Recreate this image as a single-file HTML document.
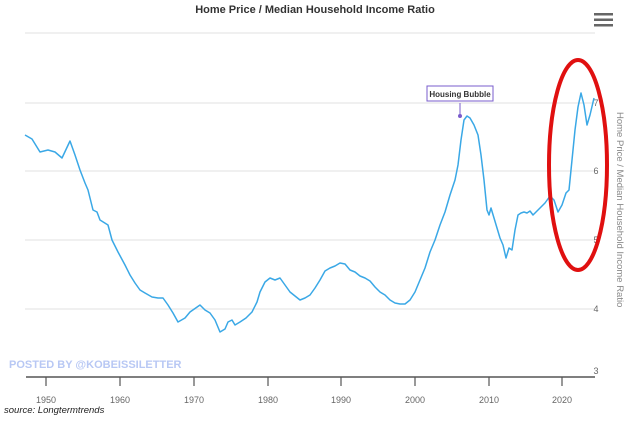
<!DOCTYPE html>
<html><head><meta charset="utf-8"><style>
html,body{margin:0;padding:0;background:#fff;}
svg{display:block;font-family:"Liberation Sans",sans-serif;}
</style></head><body>
<svg width="630" height="421" viewBox="0 0 630 421">
<rect width="630" height="421" fill="#fff"/>
<text x="315" y="13" text-anchor="middle" font-size="11" font-weight="bold" fill="#333">Home Price / Median Household Income Ratio</text>
<g fill="#666"><rect x="594" y="13" width="19" height="2.5"/><rect x="594" y="18.5" width="19" height="2.5"/><rect x="594" y="24" width="19" height="2.5"/></g>
<g stroke="#e8e8e8" stroke-width="1.2">
<line x1="25" y1="33" x2="595" y2="33"/><line x1="25" y1="103" x2="595" y2="103"/><line x1="25" y1="171" x2="595" y2="171"/><line x1="25" y1="240" x2="595" y2="240"/><line x1="25" y1="309" x2="595" y2="309"/>
</g>
<line x1="26" y1="377" x2="595" y2="377" stroke="#555" stroke-width="1.5"/>
<g stroke="#555" stroke-width="1.2">
<line x1="46" y1="377" x2="46" y2="386"/><line x1="120" y1="377" x2="120" y2="386"/><line x1="194" y1="377" x2="194" y2="386"/><line x1="268" y1="377" x2="268" y2="386"/><line x1="341" y1="377" x2="341" y2="386"/><line x1="415" y1="377" x2="415" y2="386"/><line x1="489" y1="377" x2="489" y2="386"/><line x1="562" y1="377" x2="562" y2="386"/>
</g>
<g font-size="9" fill="#666" text-anchor="middle">
<text x="46" y="403">1950</text><text x="120" y="403">1960</text><text x="194" y="403">1970</text><text x="268" y="403">1980</text><text x="341" y="403">1990</text><text x="415" y="403">2000</text><text x="489" y="403">2010</text><text x="562" y="403">2020</text>
</g>
<g font-size="9" fill="#666" text-anchor="middle">
<text x="596" y="106">7</text><text x="596" y="174">6</text><text x="596" y="243">5</text><text x="596" y="312">4</text><text x="596" y="374">3</text>
</g>
<text transform="translate(617,112) rotate(90)" font-size="9.5" fill="#888">Home Price / Median Household Income Ratio</text>
<text x="4" y="413" font-size="9.5" font-style="italic" fill="#222">source: Longtermtrends</text>
<text x="9" y="368" font-size="11" font-weight="bold" fill="#b8c8f4">POSTED BY @KOBEISSILETTER</text>
<polyline fill="none" stroke="#3aa8e6" stroke-width="1.5" stroke-linejoin="round" points="25,135 32,139 40,152 48,150 55,152 62,158 70,141 75,155 80,170 85,183 88,190 93,210 97,212 100,220 108,225 112,240 118,252 125,265 130,275 135,283 140,290 145,293 152,297 158,298 163,298 168,305 173,313 178,322 185,318 190,312 200,305 205,310 210,313 215,320 220,332 225,329 228,322 232,320 235,325 240,322 246,318 252,312 257,302 260,292 265,282 270,278 275,280 280,278 285,285 290,292 295,296 300,300 305,298 310,295 315,288 320,280 325,271 330,268 335,266 340,263 345,264 350,270 355,272 360,276 365,278 370,281 375,287 380,292 385,295 390,300 395,303 400,304 405,304 410,300 415,292 420,280 425,268 430,252 435,240 440,225 445,212 450,195 455,180 458,165 461,140 464,120 467,116 470,118 474,125 478,135 481,155 484,180 487,210 489,215 491,208 494,218 497,228 500,238 503,245 506,258 509,248 512,250 515,230 518,215 521,213 524,212 527,213 530,211 533,215 536,212 540,208 545,203 550,196 554,200 558,212 562,205 566,193 569,190 572,160 575,130 578,107 581,93 584,105 587,125 590,115 594,98"/>
<line x1="460" y1="103" x2="460" y2="116" stroke="#7a5ccc" stroke-width="1"/>
<circle cx="460" cy="116" r="2" fill="#7a5ccc"/>
<rect x="427" y="86" width="66" height="15" fill="#fff" stroke="#7a5ccc" stroke-width="1"/>
<text x="460" y="97" text-anchor="middle" font-size="8" font-weight="bold" fill="#333">Housing Bubble</text>
<ellipse cx="578" cy="165" rx="29" ry="105" fill="none" stroke="#e01010" stroke-width="4"/>
</svg>
</body></html>
